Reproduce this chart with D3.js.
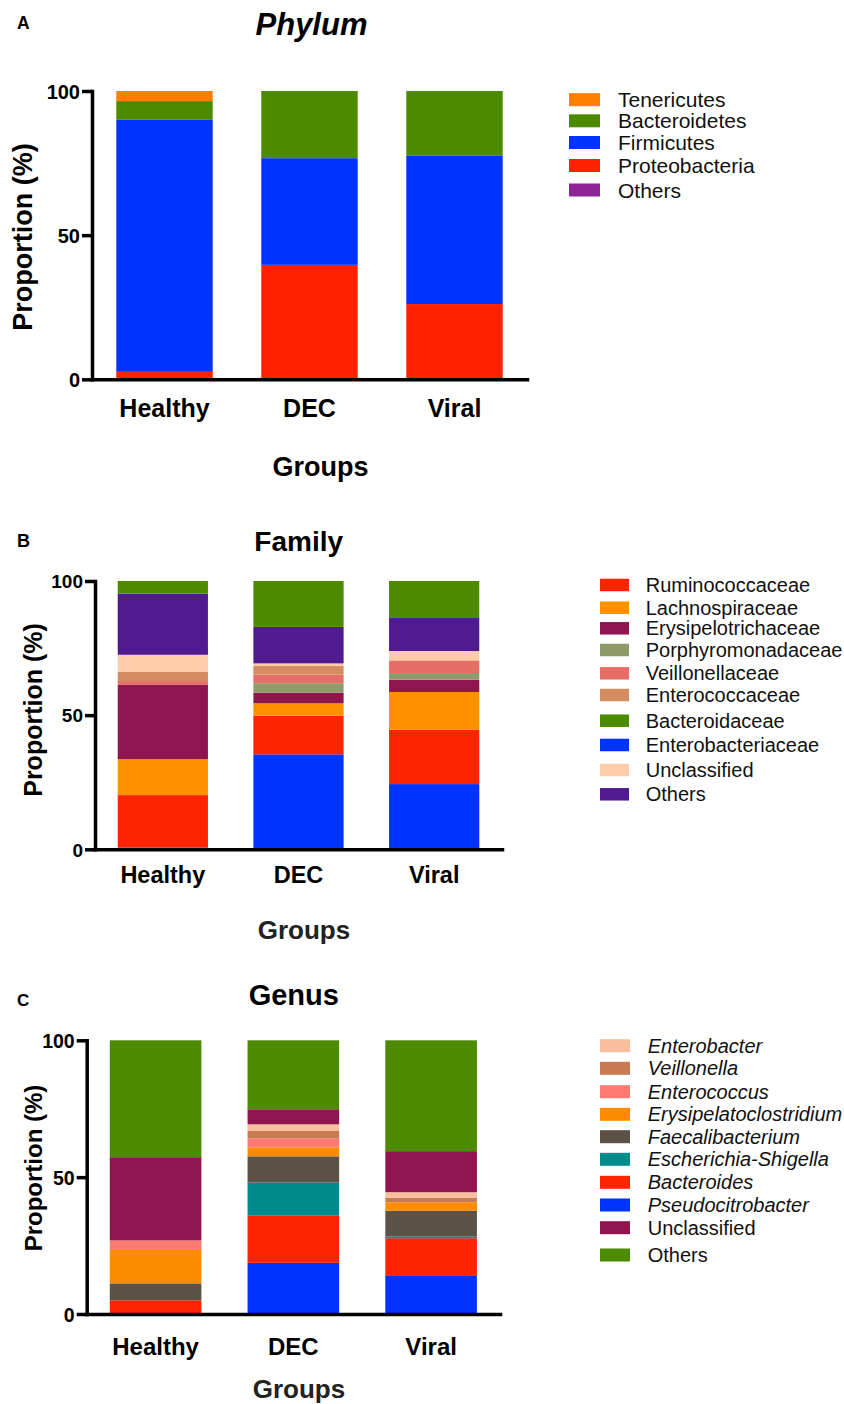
<!DOCTYPE html>
<html>
<head>
<meta charset="utf-8">
<script src="https://cdn.jsdelivr.net/npm/d3@7/dist/d3.min.js"></script>
<style>
  html, body { margin: 0; padding: 0; background: #fff; }
  svg { display: block; }
  text { font-family: "Liberation Sans", Arial, Helvetica, sans-serif; }
</style>
</head>
<body>
<svg id="chart" width="844" height="1404"></svg>
<script>
// ---------------- DATA ----------------
const groups = ["Healthy", "DEC", "Viral"];
const yTicks = [0, 50, 100];

// Phylum (stack order bottom -> top)
const phylumKeys = ["Proteobacteria", "Firmicutes", "Bacteroidetes", "Tenericutes", "Others"];
const phylumColors = ["#FF2200", "#0033FF", "#4C8A00", "#FF7F00", "#8E2496"];
const phylumHealthy = [2.6, 87.4, 6.5, 3.5, 0];
const phylumDEC     = [39.7, 37.0, 23.3, 0, 0];
const phylumViral   = [26.1, 51.4, 22.5, 0, 0];
const phylumLegend  = ["Tenericutes", "Bacteroidetes", "Firmicutes", "Proteobacteria", "Others"];

// Family (stack order bottom -> top)
const familyKeys = ["Enterobacteriaceae", "Ruminococcaceae", "Lachnospiraceae", "Erysipelotrichaceae",
  "Porphyromonadaceae", "Veillonellaceae", "Enterococcaceae", "Unclassified", "Others", "Bacteroidaceae"];
const familyColors = ["#0033FF", "#FF2400", "#FF9000", "#8E154E", "#8E9A6A", "#E66E66", "#D48C60",
  "#FFCBA8", "#4F1B8E", "#4C8A00"];
const familyHealthy = [0.6, 19.6, 13.4, 27.8, 0, 1.3, 3.5, 6.3, 22.8, 4.7];
const familyDEC     = [35.4, 14.4, 4.6, 4.0, 3.5, 3.2, 3.2, 1.0, 13.6, 17.1];
const familyViral   = [24.3, 20.3, 14.0, 4.6, 2.5, 4.7, 0, 3.5, 12.3, 13.8];
const familyLegend  = ["Ruminococcaceae", "Lachnospiraceae", "Erysipelotrichaceae", "Porphyromonadaceae",
  "Veillonellaceae", "Enterococcaceae", "Bacteroidaceae", "Enterobacteriaceae", "Unclassified", "Others"];

// Genus (stack order bottom -> top)
const genusKeys = ["Pseudocitrobacter", "Bacteroides", "Escherichia-Shigella", "Faecalibacterium",
  "Erysipelatoclostridium", "Enterococcus", "Veillonella", "Enterobacter", "Unclassified", "Others"];
const genusColors = ["#0033FF", "#FF2400", "#008B8B", "#5B5147", "#FF8C00", "#FF7B72", "#C87A50",
  "#F9BE9C", "#8E154E", "#4C8A00"];
const genusHealthy = [0, 5.0, 0, 6.2, 12.2, 3.5, 0, 0, 30.4, 42.7];
const genusDEC     = [18.7, 17.2, 12.1, 9.6, 3.3, 3.2, 2.8, 2.4, 5.5, 25.2];
const genusViral   = [13.9, 13.8, 0.6, 9.4, 3.1, 0, 1.7, 2.0, 15.0, 40.5];
const genusLegend  = ["Enterobacter", "Veillonella", "Enterococcus", "Erysipelatoclostridium",
  "Faecalibacterium", "Escherichia-Shigella", "Bacteroides", "Pseudocitrobacter", "Unclassified", "Others"];
const genusItalic  = [true, true, true, true, true, true, true, true, false, false];

// ---------------- LAYOUT ----------------
const panels = [
  {
    keys: phylumKeys, colors: phylumColors, values: [phylumHealthy, phylumDEC, phylumViral],
    legend: phylumLegend, legendItalic: null,
    axisX: 92, axisEnd: 527, y0: 379.3, y100: 91,
    tickFs: 20, catFs: 25, catBase: 416.7,
    groupsFs: 27, groupsX: 320.5, groupsBase: 476, groupsColor: "#000",
    title: "Phylum", titleItalic: true, titleFs: 31, titleX: 311.5, titleBase: 35,
    letter: "A", letterX: 17, letterBase: 29, letterFs: 17.5,
    ylabX: 32, ylabY: 237, ylabFs: 27,
    legX: 569, legW: 31, legH: 13, legTextX: 618, legFs: 21,
    legRows: [99.7, 120.8, 142.5, 165.5, 190]
  },
  {
    keys: familyKeys, colors: familyColors, values: [familyHealthy, familyDEC, familyViral],
    legend: familyLegend, legendItalic: null,
    axisX: 95, axisEnd: 502, y0: 849.3, y100: 581,
    tickFs: 19, catFs: 23.5, catBase: 882.7,
    groupsFs: 26, groupsX: 304, groupsBase: 939.3, groupsColor: "#222",
    title: "Family", titleItalic: false, titleFs: 28, titleX: 298.7, titleBase: 550.7,
    letter: "B", letterX: 17, letterBase: 546.7, letterFs: 18,
    ylabX: 42, ylabY: 710, ylabFs: 25,
    legX: 600, legW: 29, legH: 12.5, legTextX: 645.7, legFs: 20,
    legRows: [585, 607.7, 628.3, 650, 673.3, 695, 720.7, 745, 770, 794.3]
  },
  {
    keys: genusKeys, colors: genusColors, values: [genusHealthy, genusDEC, genusViral],
    legend: genusLegend, legendItalic: genusItalic,
    axisX: 86.7, axisEnd: 500, y0: 1314, y100: 1040.3,
    tickFs: 19.5, catFs: 24, catBase: 1355,
    groupsFs: 26, groupsX: 299, groupsBase: 1398, groupsColor: "#222",
    title: "Genus", titleItalic: false, titleFs: 29, titleX: 293.8, titleBase: 1005,
    letter: "C", letterX: 17, letterBase: 1005.7, letterFs: 17,
    ylabX: 42, ylabY: 1168, ylabFs: 24,
    legX: 600, legW: 30, legH: 13, legTextX: 647.7, legFs: 20,
    legRows: [1045.7, 1068.3, 1091.7, 1114.3, 1136.7, 1159.3, 1182.3, 1205, 1227.7, 1255]
  }
];

const svg = d3.select("#chart");

panels.forEach(p => {
  const g = svg.append("g");

  // table built from the arrays
  const rows = groups.map((grp, gi) => {
    const r = { group: grp };
    p.keys.forEach((k, ki) => { r[k] = p.values[gi][ki]; });
    return r;
  });
  const color = d3.scaleOrdinal().domain(p.keys).range(p.colors);

  const x = d3.scaleBand().domain(groups).range([p.axisX, p.axisEnd])
    .paddingInner(0.335).paddingOuter(0.1675);
  const y = d3.scaleLinear().domain([0, 100]).range([p.y0, p.y100]);

  const series = d3.stack().keys(p.keys)(rows);

  g.selectAll("g.series").data(series).join("g")
    .attr("class", "series")
    .attr("fill", d => color(d.key))
    .selectAll("rect")
    .data(d => d.filter(s => s[1] - s[0] > 0))
    .join("rect")
    .attr("x", d => x(d.data.group))
    .attr("width", x.bandwidth())
    .attr("y", d => y(d[1]))
    .attr("height", d => y(d[0]) - y(d[1]));

  // Y axis
  const yAxis = g.append("g")
    .attr("transform", `translate(${p.axisX},0)`)
    .call(d3.axisLeft(y).tickValues(yTicks).tickSize(10).tickSizeOuter(0).tickPadding(2));
  yAxis.select(".domain").attr("stroke", "#000").attr("stroke-width", 3.5).attr("stroke-linecap", "square");
  yAxis.selectAll(".tick line").attr("stroke", "#000").attr("stroke-width", 3.5);
  yAxis.selectAll(".tick text")
    .attr("fill", "#000").attr("font-size", p.tickFs).attr("font-weight", "bold")
    .attr("dy", "0.36em")
    .style("font-family", '"Liberation Sans", Arial, sans-serif');

  // X axis
  const xAxis = g.append("g")
    .attr("transform", `translate(0,${p.y0})`)
    .call(d3.axisBottom(x).tickSize(0).tickSizeOuter(0));
  xAxis.select(".domain").attr("stroke", "#000").attr("stroke-width", 3.5).attr("stroke-linecap", "square");
  xAxis.selectAll(".tick text")
    .attr("fill", "#000").attr("font-size", p.catFs).attr("font-weight", "bold")
    .attr("y", p.catBase - p.y0).attr("dy", 0)
    .style("font-family", '"Liberation Sans", Arial, sans-serif');

  // Axis titles
  g.append("text")
    .attr("x", p.groupsX).attr("y", p.groupsBase)
    .attr("text-anchor", "middle").attr("font-size", p.groupsFs).attr("font-weight", "bold")
    .attr("fill", p.groupsColor)
    .text("Groups");

  g.append("text")
    .attr("transform", `translate(${p.ylabX},${p.ylabY}) rotate(-90)`)
    .attr("text-anchor", "middle").attr("font-size", p.ylabFs).attr("font-weight", "bold")
    .attr("fill", "#000")
    .text("Proportion (%)");

  // Panel title and letter
  g.append("text")
    .attr("x", p.titleX).attr("y", p.titleBase)
    .attr("text-anchor", "middle").attr("font-size", p.titleFs).attr("font-weight", "bold")
    .attr("font-style", p.titleItalic ? "italic" : "normal")
    .attr("fill", "#000")
    .text(p.title);

  g.append("text")
    .attr("x", p.letterX).attr("y", p.letterBase)
    .attr("font-size", p.letterFs).attr("font-weight", "bold").attr("fill", "#000")
    .text(p.letter);

  // Legend
  const leg = g.append("g");
  const items = leg.selectAll("g").data(p.legend).join("g")
    .attr("transform", (d, i) => `translate(0,${p.legRows[i]})`);
  items.append("rect")
    .attr("x", p.legX).attr("y", -p.legH / 2)
    .attr("width", p.legW).attr("height", p.legH)
    .attr("fill", d => color(d));
  items.append("text")
    .attr("x", p.legTextX).attr("y", p.legFs * 0.358)
    .attr("font-size", p.legFs).attr("fill", "#111")
    .attr("font-style", (d, i) => (p.legendItalic && p.legendItalic[i]) ? "italic" : "normal")
    .text(d => d);
});
</script>
</body>
</html>
